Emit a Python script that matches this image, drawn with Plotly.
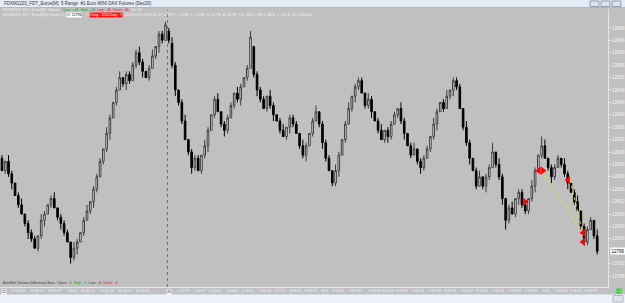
import plotly.graph_objects as go

# ---------------- data ----------------
O = [12826,12822,12825,12821,12818,12814,12811,12808,12805,12802,
     12800,12797,12801,12806,12808,12811,12813,12810,12807,12805,
     12802,12799,12794,12797,12799,12802,12806,12809,12812,12816,
     12820,12825,12829,12834,12839,12844,12848,12852,12850,12853,
     12851,12856,12860,12857,12854,12852,12855,12859,12862,12866,
     12864,12867,12863,12856,12848,12844,12838,12832,12828,12823,
     12826,12822,12827,12830,12835,12840,12845,12841,12837,12835,
     12839,12843,12847,12845,12849,12852,12855,12862,12853,12848,
     12845,12842,12846,12843,12840,12838,12835,12833,12836,12839,
     12837,12834,12830,12827,12830,12834,12838,12841,12837,12831,
     12826,12822,12818,12822,12827,12832,12837,12842,12846,12849,
     12851,12847,12843,12845,12841,12838,12835,12832,12835,12833,
     12837,12840,12842,12838,12834,12830,12827,12829,12825,12823,
     12826,12829,12833,12837,12841,12844,12842,12846,12848,12851,
     12849,12842,12836,12831,12826,12822,12817,12820,12817,12820,
     12823,12828,12824,12820,12813,12806,12810,12808,12813,12815,
     12811,12809,12813,12817,12822,12827,12830,12826,12823,12820,
     12823,12826,12824,12821,12818,12815,12812,12809,12804,12799,
     12803,12806,12801]

H = [12827,12825,12827,12822,12818,12815,12813,12808,12806,12803,
     12801,12801,12808,12809,12811,12814,12815,12810,12808,12806,
     12803,12799,12799,12800,12802,12807,12811,12812,12817,12821,
     12826,12829,12836,12840,12844,12849,12854,12852,12854,12854,
     12857,12861,12862,12858,12854,12856,12861,12862,12867,12867,
     12870,12868,12865,12857,12848,12845,12840,12832,12829,12827,
     12827,12827,12832,12836,12840,12846,12847,12841,12838,12840,
     12844,12847,12849,12850,12852,12856,12867,12862,12854,12849,
     12846,12846,12848,12844,12840,12839,12837,12836,12840,12840,
     12838,12834,12832,12831,12834,12839,12843,12841,12838,12832,
     12827,12822,12824,12828,12832,12838,12844,12846,12850,12852,
     12852,12847,12847,12846,12841,12839,12837,12835,12836,12838,
     12841,12842,12844,12839,12834,12831,12831,12829,12826,12827,
     12830,12833,12839,12842,12844,12845,12848,12848,12852,12852,
     12850,12842,12838,12832,12826,12823,12822,12820,12821,12824,
     12831,12828,12826,12821,12813,12811,12812,12813,12816,12816,
     12812,12813,12819,12823,12827,12833,12832,12826,12824,12824,
     12827,12826,12826,12822,12818,12816,12814,12809,12805,12804,
     12807,12806,12803]

L = [12822,12821,12820,12816,12814,12810,12808,12804,12800,12799,
     12797,12796,12800,12804,12808,12810,12810,12806,12803,12801,
     12799,12792,12793,12795,12799,12801,12806,12808,12810,12815,
     12820,12824,12828,12832,12839,12843,12848,12849,12848,12850,
     12851,12855,12856,12852,12852,12851,12855,12858,12860,12863,
     12864,12863,12855,12846,12843,12837,12832,12827,12821,12822,
     12822,12821,12826,12828,12835,12839,12841,12836,12833,12834,
     12839,12842,12844,12843,12849,12851,12855,12852,12846,12844,
     12842,12841,12842,12838,12838,12834,12833,12832,12834,12836,
     12834,12829,12826,12825,12830,12833,12838,12836,12829,12825,
     12822,12817,12817,12820,12827,12831,12837,12841,12844,12848,
     12847,12842,12842,12839,12838,12834,12832,12831,12831,12832,
     12837,12839,12837,12832,12830,12826,12827,12824,12821,12822,
     12826,12828,12832,12835,12841,12841,12842,12845,12846,12848,
     12842,12835,12830,12824,12822,12816,12817,12816,12815,12819,
     12823,12823,12819,12811,12803,12805,12808,12807,12811,12810,
     12808,12808,12812,12815,12822,12826,12826,12822,12818,12819,
     12823,12823,12820,12816,12815,12811,12809,12803,12798,12798,
     12803,12800,12795]

C = [12822,12825,12821,12818,12814,12811,12808,12805,12802,12800,
     12797,12801,12806,12808,12811,12813,12810,12807,12805,12802,
     12799,12794,12797,12799,12802,12806,12809,12812,12816,12820,
     12825,12829,12834,12839,12844,12848,12852,12850,12853,12851,
     12856,12860,12857,12854,12852,12855,12859,12862,12866,12864,
     12869,12864,12856,12848,12844,12838,12832,12828,12823,12826,
     12822,12827,12830,12835,12840,12845,12841,12837,12835,12839,
     12843,12847,12845,12849,12852,12855,12865,12853,12848,12845,
     12842,12846,12843,12840,12838,12835,12833,12836,12839,12837,
     12834,12830,12827,12830,12834,12838,12841,12837,12831,12826,
     12822,12818,12822,12827,12832,12837,12842,12846,12849,12851,
     12847,12843,12845,12841,12838,12835,12832,12835,12833,12837,
     12840,12842,12838,12834,12830,12827,12829,12825,12823,12826,
     12829,12833,12837,12841,12844,12842,12846,12848,12851,12849,
     12842,12836,12831,12826,12822,12817,12820,12817,12820,12823,
     12828,12824,12820,12813,12806,12810,12808,12813,12815,12811,
     12809,12813,12817,12822,12827,12830,12826,12823,12820,12823,
     12826,12824,12821,12818,12815,12812,12809,12804,12799,12803,
     12806,12801,12796]

BAR_INDEX = list(range(len(C)))

PRICE_TICKS = [12868, 12864, 12860, 12856, 12852, 12848, 12844, 12840, 12836,
               12832, 12828, 12824, 12820, 12816, 12812, 12808, 12804, 12800,
               12792, 12788]
LAST_PRICE = 12796

TIME_TICK_POS = [4.9, 10.7, 16.2, 21.4, 26.3, 32.1, 37.6, 43.1,
                 55.4, 60.6, 65.1, 70.3, 75.2, 80.4, 85.0, 89.9, 94.5, 98.8,
                 103.0, 108.0, 114.0, 118.0, 122.3, 127.2, 132.4, 137.0, 142.2,
                 146.8, 151.7, 156.9, 161.8, 166.4, 171.0, 175.5, 180.1]
TIME_TICK_TEXT = ["17:13:24", "17:46:15", "18:25:37", "20:04", "20:45:11",
                  "21:11:26", "21:20:12", "21:40:21",
                  "2:27:19", "2:46:27", "3:15:02", "3:54:44", "5:19:22",
                  "7:01:04", "7:27:21", "8:05:01", "8:34:32", "8:52",
                  "8:54:21", "8:57:49", "9:00:40", "9:01:54", "9:03:10",
                  "9:05:22", "9:07:06", "9:08:12", "9:11:07", "9:14:01",
                  "9:15:20", "9:16:50", "9:18:19", "9:22", "9:24:44",
                  "9:30:02", "9:32:39"]

SESSION_BREAK = 50.6

SIG_X = [159.9, 164.2, 165.4, 173.1, 177.7, 177.7]
SIG_Y = [12812, 12822, 12822, 12819, 12802, 12799]
SIG_SYM = ["triangle-right", "triangle-left", "triangle-right",
           "triangle-left", "triangle-left", "triangle-left"]

TREND1_X = [164.8, 178.3]
TREND1_Y = [12822, 12801]
TREND2_X = [173.7, 178.3]
TREND2_Y = [12819, 12798.6]

# ---------------- figure ----------------
BG = "#c0c0c0"
FONT = "Liberation Sans, Arial, sans-serif"
W, Hh = 625, 303
ML, MR, MT, MB = 0, 17, 9, 16
PW, PH = W - ML - MR, Hh - MT - MB
HDR = 3.5


def px_x(x):
    return (x - ML) / PW


def px_y(y):
    return (Hh - MB - y) / PH


fig = go.Figure()
fig.add_trace(go.Candlestick(
    x=BAR_INDEX, open=O, high=H, low=L, close=C,
    increasing=dict(line=dict(color="#3c3c3c", width=1), fillcolor="#eeeeee"),
    decreasing=dict(line=dict(color="#000000", width=1), fillcolor="#000000"),
    whiskerwidth=0, showlegend=False, hoverinfo="skip"))

fig.add_trace(go.Scatter(x=TREND1_X, y=TREND1_Y, mode="lines",
                         line=dict(color="#f0f000", width=1, dash="dot"),
                         showlegend=False, hoverinfo="skip"))
fig.add_trace(go.Scatter(x=TREND2_X, y=TREND2_Y, mode="lines",
                         line=dict(color="#f0f000", width=1, dash="dot"),
                         showlegend=False, hoverinfo="skip"))
fig.add_trace(go.Scatter(x=SIG_X, y=SIG_Y, mode="markers",
                         marker=dict(symbol=SIG_SYM, color="#ff0000", size=7,
                                     line=dict(width=0)),
                         showlegend=False, hoverinfo="skip"))

shapes = [
    dict(type="line", xref="x", yref="paper", x0=SESSION_BREAK, x1=SESSION_BREAK,
         y0=0, y1=px_y(10), line=dict(color="#707070", width=1, dash="dot")),
    dict(type="rect", xref="paper", yref="paper", x0=px_x(0), x1=px_x(W),
         y0=px_y(7), y1=px_y(0), fillcolor="#e6ecf5", line=dict(width=0)),
    dict(type="line", xref="paper", yref="paper", x0=px_x(0), x1=px_x(W),
         y0=px_y(7.5), y1=px_y(7.5), line=dict(color="#a9b9cf", width=1)),
    dict(type="rect", xref="paper", yref="paper", x0=px_x(0), x1=px_x(W),
         y0=px_y(Hh), y1=px_y(294), fillcolor="#eef2f8", line=dict(width=0)),
    dict(type="line", xref="paper", yref="paper", x0=px_x(0), x1=px_x(W),
         y0=px_y(294), y1=px_y(294), line=dict(color="#b8c4d4", width=1)),
    dict(type="rect", xref="paper", yref="paper", x0=px_x(613), x1=px_x(623),
         y0=px_y(302), y1=px_y(295.5), fillcolor="#dfe4ea",
         line=dict(color="#b0b8c4", width=1)),
]
for bx in (590, 601, 612):
    shapes.append(dict(type="rect", xref="paper", yref="paper",
                       x0=px_x(bx), x1=px_x(bx + 9), y0=px_y(6.5), y1=px_y(1),
                       fillcolor="#dde5f0", line=dict(color="#8c9db5", width=1)))


def txt(x, y, text, size=HDR, color="#f2f2f2", bg=None, anchor="left"):
    d = dict(x=px_x(x), y=px_y(y), xref="paper", yref="paper",
             xanchor=anchor, yanchor="middle", showarrow=False, text=text,
             font=dict(size=size, color=color, family=FONT))
    if bg:
        d["bgcolor"] = bg
        d["borderpad"] = 0
    return d


ann = [
    txt(2, 3.5, "FDXM1220_FDT_Euros[M]  5 Range  #1 Euro MINI DAX Futures (Dec20)",
        size=4.5, color="#333333"),
    txt(1, 10.2, "FDXM1220_FDT_Euros[M] : Volume", color="#f2f2f2"),
    txt(60, 10.2, ("<span style='color:#12a012'>Open: +46  High: +46</span>"
                   "<span style='color:#e01010'>  Low: -46  Close: -46</span>"
                   "<span style='color:#f2f2f2'>  Vol: 64</span>")),
    txt(1, 15.5, "FDXM1220_FDT_Euros[M] 5 Range #1"),
    txt(66, 15.5, "O: 12796", color="#000000", bg="#ffffff"),
    txt(83, 15.5, "7 1"),
    txt(89, 15.5, "Chop - 1DDChop - 7", color="#ffffff", bg="#ff1010"),
    txt(123, 15.5, ("2020/11/26 09:33:03  H: 12797  L: 12796  C: 12796  O: 12796  "
                    "A: 12797  2x1  RN: 4  BN: 4  ADX: 2  CN: 4  DD: 00:00:00")),
    txt(1, 283, ("<span style='color:#404040'>Ask/Bid Volume Difference Bars  Open: -1 </span>"
                 "<span style='color:#12a012'> High: -1 </span>"
                 "<span style='color:#404040'> Low: -4 </span>"
                 "<span style='color:#e01010'> Close: -4</span>"),
        size=3.7, color="#404040"),
    txt(3.5, 291.5, "25", color="#000000", bg="#ffffff", anchor="center"),
    txt(168.5, 291.5, "26", color="#000000", bg="#ffffff", anchor="center"),
    txt(619, 290.5, "+1", color="#ffffff", bg="#1ed01e", anchor="center"),
    dict(x=px_x(610), y=LAST_PRICE, xref="paper", yref="y",
         xanchor="left", yanchor="middle", showarrow=False,
         text=str(LAST_PRICE), bgcolor="#ffffff", borderpad=0.5,
         font=dict(size=4.5, color="#000000", family=FONT)),
]

fig.update_layout(
    width=W, height=Hh,
    margin=dict(l=ML, r=MR, t=MT, b=MB),
    paper_bgcolor=BG, plot_bgcolor=BG,
    font=dict(family=FONT, size=4.5, color="#f4f4f4"),
    hovermode=False,
    shapes=shapes, annotations=ann,
    xaxis=dict(range=[-0.6, 185.3], tickvals=TIME_TICK_POS, ticktext=TIME_TICK_TEXT,
               tickangle=0, showgrid=False, zeroline=False, showline=True,
               linecolor="#e6e6e6", linewidth=1, ticks="",
               tickfont=dict(size=3.6, color="#f4f4f4", family=FONT),
               rangeslider=dict(visible=False), fixedrange=True),
    yaxis=dict(range=[12784.5, 12874.1], side="right", tickvals=PRICE_TICKS,
               tickformat="d",
               showgrid=False, zeroline=False, showline=True,
               linecolor="#e6e6e6", linewidth=1, ticks="outside", ticklen=2,
               tickcolor="#e6e6e6",
               tickfont=dict(size=4.5, color="#f4f4f4", family=FONT),
               fixedrange=True),
)

fig.write_html("out.html")
